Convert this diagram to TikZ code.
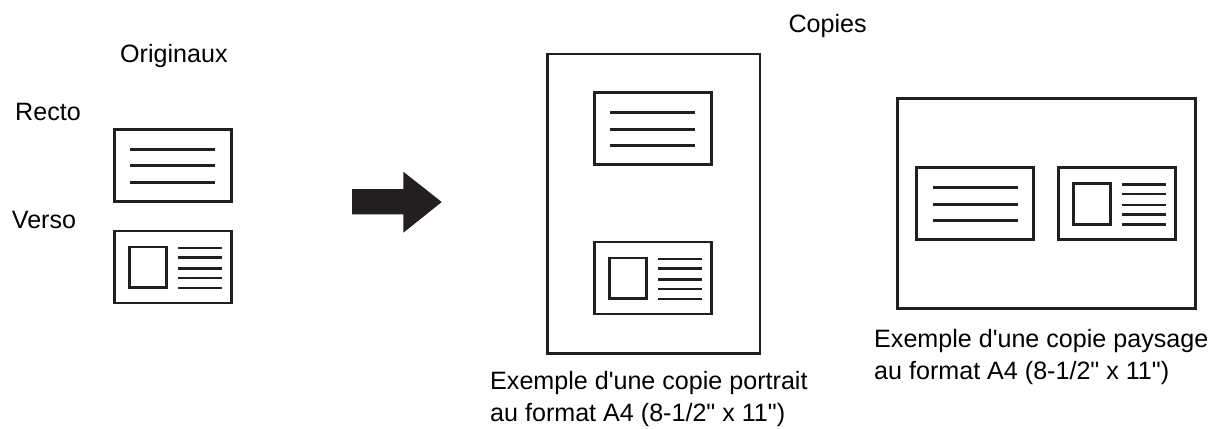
\documentclass[tikz,border=0pt]{standalone}
\usepackage{fontspec}
\newfontfamily\capfont{Liberation Sans}
\definecolor{ink}{HTML}{231F20}
\tikzset{
  x=1bp, y=-1bp,
  frame/.style={draw=ink, line width=2.7bp, line join=miter},
  rule/.style={draw=ink, line width=2.7bp},
  lbl/.style={anchor=base west, inner sep=0pt, text=black, font=\capfont\fontsize{25.2}{30}\selectfont},
  recto/.pic={
    \draw[frame] (0,0) rectangle (117,72);
    \foreach \yy in {20,36.5,53} \draw[rule] (16,\yy) -- (101,\yy);
  },
  verso/.pic={
    \draw[frame] (0,0) rectangle (117,72);
    \draw[frame] (15,16) rectangle (52,56.5);
    \foreach \yy in {17,26.3,37.4,47,57} \draw[rule] (63.5,\yy) -- (107.5,\yy);
  }
}
\begin{document}
\begin{tikzpicture}
\useasboundingbox (0,0) rectangle (1215,428);
% Originals
\node[lbl] (orig) at (120,62.3) {Originaux};
\node[lbl] (recto) at (15,120.7) {Recto};
\node[lbl] (verso) at (11.7,228.3) {Verso};
\pic at (114.3,129.3) {recto};
\pic at (114.3,231) {verso};
% Arrow
\fill[ink] (352,189) -- (403.3,189) -- (403.3,171.7) -- (441.7,202) -- (403.3,232.7) -- (403.3,214.3) -- (352,214.3) -- cycle;
% Copies
\node[lbl] (copies) at (788.3,32.3) {Copies};
% Portrait page
\draw[frame] (547.3,54) rectangle (760,353.3);
\pic at (594.3,92.7) {recto};
\pic at (594.3,242) {verso};
\node[lbl] (portA) at (490,389) {Exemple d'une copie portrait};
\node[lbl] (portB) at (490,421) {au format A4 (8-1/2" x 11")};
% Landscape page
\draw[frame] (897.3,98.3) rectangle (1195.3,308.3);
\pic at (916.7,167.7) {recto};
\pic at (1058.7,167.7) {verso};
\node[lbl] (paysA) at (874,347.7) {Exemple d'une copie paysage};
\node[lbl] (paysB) at (874,379.7) {au format A4 (8-1/2" x 11")};
\end{tikzpicture}
\end{document}
